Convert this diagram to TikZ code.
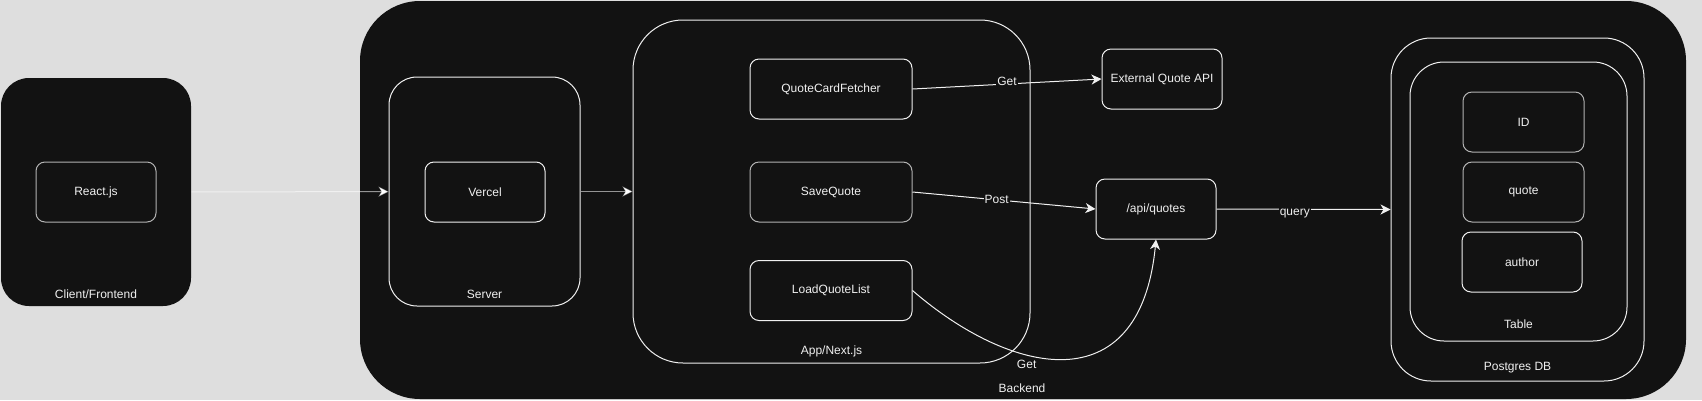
\documentclass[tikz,border=0pt]{standalone}
\usepackage{fontspec}
\setmainfont{Liberation Sans}
\usetikzlibrary{arrows.meta}
\definecolor{canvas}{HTML}{DEDEDE}
\definecolor{boxfill}{HTML}{121212}
\definecolor{ink}{HTML}{F0F0F0}
\definecolor{dimink}{HTML}{B3B3B3}
\begin{document}
\begin{tikzpicture}
[x=1pt,y=-1pt,
  font=\fontsize{12}{14}\selectfont,
  groupdecorate/.style={fill=boxfill,line width=1pt,inner sep=0pt},
  boxdecorate/.style={fill=boxfill,line width=1pt,rounded corners=9pt,
    minimum height=60pt,text=ink},
  textdecorate/.style={text=ink,inner sep=1pt},
  edgelabel/.style={textdecorate,fill=boxfill},
  arrowdecorate/.style={-{Stealth[length=10pt,width=10pt,inset=3pt]},draw=ink,line width=1pt},
  dimdecorate/.style={arrowdecorate,draw=white,draw opacity=0.55}]
\fill[canvas] (0,0) rectangle (1702,400);
\useasboundingbox (0,0) rectangle (1702,400);
%% groups
\node (backend) at (1023,200) [groupdecorate,minimum width=1326pt,minimum height=398pt,rounded corners=60pt] {};
\node at (1022,388) [textdecorate] {Backend};
\foreach \groupname/\x/\y/\w/\h/\r/\ly/\linecolor/\grouplabel in {
  front/96/192/190/228/28/294/none/{Client/Frontend},
  server/484.5/191.5/191/229/28/294/ink/{Server},
  app/831.5/191.5/397/343/50/351/ink/{App/Next.js},
  pg/1517.5/209.5/253/343/40/368/ink/{Postgres DB},
  table/1518.5/201.5/217/279/34/324/ink/{Table}} {
  \node (\groupname) at (\x,\y) [groupdecorate,draw=\linecolor,minimum width=\w pt,minimum height=\h pt,rounded corners=\r pt] {};
  \node at (\x,\ly) [textdecorate] {\grouplabel};
}
%% boxes
\foreach \nodename/\x/\y/\w/\linecolor/\nodelabel in {
  react/96/192/120/dimink/{React.js}, vercel/485/192/120/ink/{Vercel},
  qcf/831/89/162/ink/{QuoteCardFetcher}, save/831/192/162/dimink/{SaveQuote},
  load/831/290.5/162/ink/{LoadQuoteList}, ext/1162/79/120/ink/{External Quote API},
  api/1156/209/120/ink/{/api/quotes}, id/1523.5/122/121/dimink/{ID},
  quote/1523.5/192/121/dimink/{quote}, author/1522/262/120/ink/{author}} {
  \node (\nodename) at (\x,\y) [boxdecorate,draw=\linecolor,minimum width=\w pt] {\nodelabel};
}
%% edges
\path
\foreach \startnode/\endnode in {front/server, server/app} {
  (\startnode) edge[dimdecorate] (\endnode)
};
\draw[arrowdecorate] (qcf.east) -- node[edgelabel,yshift=3pt] {Get} (ext.west);
\draw[arrowdecorate] (save.east) -- node[edgelabel,pos=0.46] {Post} (api.west);
\draw[arrowdecorate] (api.east) -- node[edgelabel,pos=0.45,yshift=-4pt] {query} (pg.west);
\draw[arrowdecorate] (load.east) .. controls (1010,375) and (1140,405) .. node[edgelabel,pos=0.37,yshift=-10pt] {Get} (api.south);
\end{tikzpicture}
\end{document}
